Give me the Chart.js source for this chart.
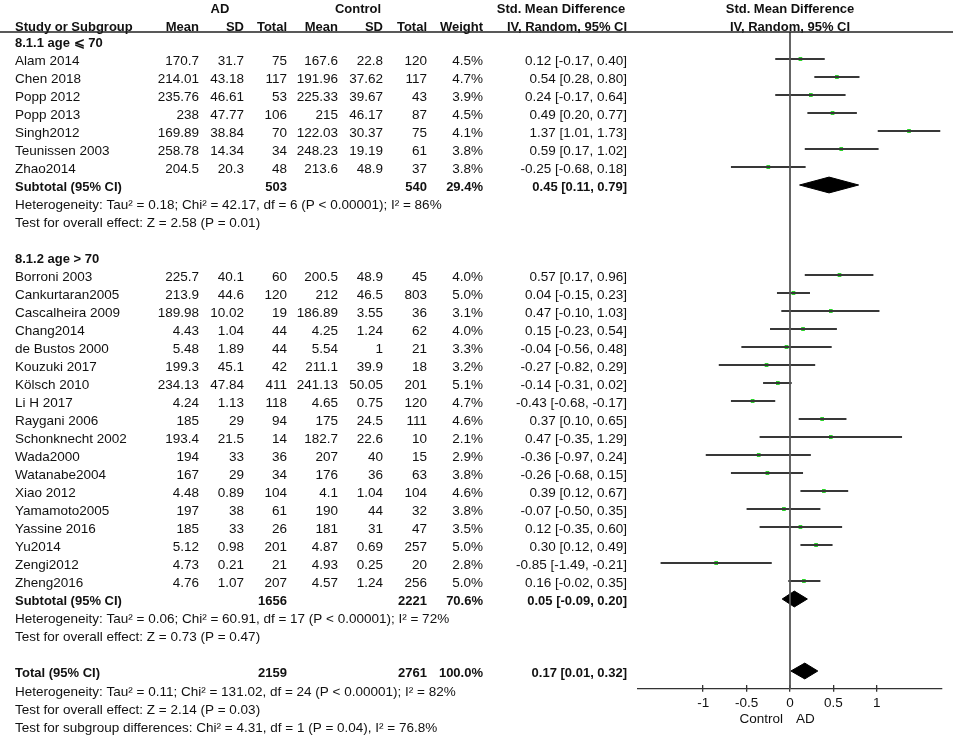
<!DOCTYPE html>
<html>
<head>
<meta charset="utf-8">
<script src="https://cdn.jsdelivr.net/npm/chart.js@4/dist/chart.umd.min.js"></script>
<style>
  html, body { margin: 0; padding: 0; background: #fff; }
  #wrap { width: 957px; height: 737px; position: relative; }
</style>
</head>
<body>
<div id="wrap"><canvas id="forest"></canvas></div>
<script>
// studies, in the order they appear in the table
const studies = ['Alam 2014', 'Chen 2018', 'Popp 2012', 'Popp 2013', 'Singh2012', 'Teunissen 2003', 'Zhao2014',
  'Borroni 2003', 'Cankurtaran2005', 'Cascalheira 2009', 'Chang2014', 'de Bustos 2000', 'Kouzuki 2017', 'Kölsch 2010',
  'Li H 2017', 'Raygani 2006', 'Schonknecht 2002', 'Wada2000', 'Watanabe2004', 'Xiao 2012', 'Yamamoto2005',
  'Yassine 2016', 'Yu2014', 'Zengi2012', 'Zheng2016'];
const adMean = [170.7, 214.01, 235.76, 238, 169.89, 258.78, 204.5,
  225.7, 213.9, 189.98, 4.43, 5.48, 199.3, 234.13, 4.24, 185, 193.4, 194, 167, 4.48, 197, 185, 5.12, 4.73, 4.76];
const adSd = [31.7, 43.18, 46.61, 47.77, 38.84, 14.34, 20.3,
  40.1, 44.6, 10.02, 1.04, 1.89, 45.1, 47.84, 1.13, 29, 21.5, 33, 29, 0.89, 38, 33, 0.98, 0.21, 1.07];
const adN = [75, 117, 53, 106, 70, 34, 48,
  60, 120, 19, 44, 44, 42, 411, 118, 94, 14, 36, 34, 104, 61, 26, 201, 21, 207];
const ctMean = [167.6, 191.96, 225.33, 215, 122.03, 248.23, 213.6,
  200.5, 212, 186.89, 4.25, 5.54, 211.1, 241.13, 4.65, 175, 182.7, 207, 176, 4.1, 190, 181, 4.87, 4.93, 4.57];
const ctSd = [22.8, 37.62, 39.67, 46.17, 30.37, 19.19, 48.9,
  48.9, 46.5, 3.55, 1.24, 1, 39.9, 50.05, 0.75, 24.5, 22.6, 40, 36, 1.04, 44, 31, 0.69, 0.25, 1.24];
const ctN = [120, 117, 43, 87, 75, 61, 37,
  45, 803, 36, 62, 21, 18, 201, 120, 111, 10, 15, 63, 104, 32, 47, 257, 20, 256];
const weight = [4.5, 4.7, 3.9, 4.5, 4.1, 3.8, 3.8,
  4.0, 5.0, 3.1, 4.0, 3.3, 3.2, 5.1, 4.7, 4.6, 2.1, 2.9, 3.8, 4.6, 3.8, 3.5, 5.0, 2.8, 5.0];
const smd = [0.12, 0.54, 0.24, 0.49, 1.37, 0.59, -0.25,
  0.57, 0.04, 0.47, 0.15, -0.04, -0.27, -0.14, -0.43, 0.37, 0.47, -0.36, -0.26, 0.39, -0.07, 0.12, 0.30, -0.85, 0.16];
const ciLo = [-0.17, 0.28, -0.17, 0.20, 1.01, 0.17, -0.68,
  0.17, -0.15, -0.10, -0.23, -0.56, -0.82, -0.31, -0.68, 0.10, -0.35, -0.97, -0.68, 0.12, -0.50, -0.35, 0.12, -1.49, -0.02];
const ciHi = [0.40, 0.80, 0.64, 0.77, 1.73, 1.02, 0.18,
  0.96, 0.23, 1.03, 0.54, 0.48, 0.29, 0.02, -0.17, 0.65, 1.29, 0.24, 0.15, 0.67, 0.35, 0.60, 0.49, -0.21, 0.35];

// subgroups
const groupLabels = ['8.1.1 age \u2A7D 70', '8.1.2 age > 70'];
const groupSizes = [7, 18];
const subAdN = [503, 1656];
const subCtN = [540, 2221];
const subWeight = [29.4, 70.6];
const subSmd = [0.45, 0.05];
const subLo = [0.11, -0.09];
const subHi = [0.79, 0.20];
const subHet = ['Heterogeneity: Tau\u00B2 = 0.18; Chi\u00B2 = 42.17, df = 6 (P < 0.00001); I\u00B2 = 86%',
  'Heterogeneity: Tau\u00B2 = 0.06; Chi\u00B2 = 60.91, df = 17 (P < 0.00001); I\u00B2 = 72%'];
const subTest = ['Test for overall effect: Z = 2.58 (P = 0.01)', 'Test for overall effect: Z = 0.73 (P = 0.47)'];

// overall
const totalAdN = 2159, totalCtN = 2761, totalWeight = 100.0;
const totalSmd = 0.17, totalLo = 0.01, totalHi = 0.32;
const totalNotes = ['Heterogeneity: Tau\u00B2 = 0.11; Chi\u00B2 = 131.02, df = 24 (P < 0.00001); I\u00B2 = 82%',
  'Test for overall effect: Z = 2.14 (P = 0.03)',
  'Test for subgroup differences: Chi\u00B2 = 4.31, df = 1 (P = 0.04), I\u00B2 = 76.8%'];

const xTicks = [-1, -0.5, 0, 0.5, 1];

// row layout (one row = one table line)
const studyRow = [], groupRow = [], subRow = [], hetRow = [], testRow = [];
let r = 0, k = 0;
groupSizes.forEach((n, g) => {
  groupRow.push(r++);
  for (let i = 0; i < n; i++) studyRow[k++] = r++;
  subRow.push(r++);
  hetRow.push(r++);
  testRow.push(r++);
  r++;
});
const totalRow = r;
const axisRow = totalRow + 1;

const FONT = '"Liberation Sans", Arial, sans-serif';
const FS = 13.5;
const FSB = 13;
const TXT = '#111';
const fmt2 = v => v.toFixed(2);
const ciText = (m, lo, hi) => fmt2(m) + ' [' + fmt2(lo) + ', ' + fmt2(hi) + ']';

const DH = 0.44;
function diamond(m, lo, hi, row) {
  return [{ x: lo, y: row }, { x: m, y: row - DH }, { x: hi, y: row }, { x: m, y: row + DH }, { x: lo, y: row }];
}
const diamonds = subSmd.map((m, g) => diamond(m, subLo[g], subHi[g], subRow[g]));
diamonds.push(diamond(totalSmd, totalLo, totalHi, totalRow));

const lineDs = (data, color, width) => ({
  type: 'scatter', data, showLine: true, borderColor: color, borderWidth: width,
  pointRadius: 0, tension: 0, clip: false
});

const datasets = [lineDs([{ x: 0, y: -0.5 }, { x: 0, y: axisRow }], '#555', 1.8)];
// CI whiskers, one per study
studies.forEach((s, i) => {
  datasets.push(lineDs([{ x: ciLo[i], y: studyRow[i] }, { x: ciHi[i], y: studyRow[i] }], '#383838', 2));
});
datasets.push({
  type: 'scatter', data: studies.map((s, i) => ({ x: smd[i], y: studyRow[i] })),
  pointStyle: 'rect', pointRadius: 2.6, backgroundColor: '#00cc00', borderWidth: 0, clip: false
});
diamonds.forEach(d => {
  const ds = lineDs(d, '#000', 1);
  ds.fill = 'shape';
  ds.backgroundColor = '#000';
  datasets.push(ds);
});

const tablePlugin = {
  id: 'forestTable',
  afterDraw(chart) {
    const ctx = chart.ctx;
    const ys = chart.scales.y;
    const xs = chart.scales.x;
    const py = row => ys.getPixelForValue(row) + (row > totalRow ? 3.5 : 2.5);
    ctx.save();
    ctx.fillStyle = TXT;
    ctx.textBaseline = 'middle';
    const txt = (s, x, row, align, bold) => {
      ctx.font = bold ? 'bold ' + FSB + 'px ' + FONT : FS + 'px ' + FONT;
      ctx.textAlign = align || 'left';
      ctx.fillText(s, x, py(row));
    };
    const C = { name: 15, adM: 199, adS: 244, adN: 287, ctM: 338, ctS: 383, ctN: 427, w: 483, ci: 627 };

    // headers
    const h1 = -1.9, h2 = -0.9;
    txt('AD', 220, h1, 'center', true);
    txt('Control', 358, h1, 'center', true);
    txt('Std. Mean Difference', 561, h1, 'center', true);
    txt('Std. Mean Difference', xs.getPixelForValue(0), h1, 'center', true);
    txt('Study or Subgroup', C.name, h2, 'left', true);
    txt('Mean', C.adM, h2, 'right', true);
    txt('SD', C.adS, h2, 'right', true);
    txt('Total', C.adN, h2, 'right', true);
    txt('Mean', C.ctM, h2, 'right', true);
    txt('SD', C.ctS, h2, 'right', true);
    txt('Total', C.ctN, h2, 'right', true);
    txt('Weight', C.w, h2, 'right', true);
    txt('IV, Random, 95% CI', 567, h2, 'center', true);
    txt('IV, Random, 95% CI', xs.getPixelForValue(0), h2, 'center', true);
    ctx.strokeStyle = '#222';
    ctx.lineWidth = 1.3;
    ctx.beginPath();
    const yl = ys.getPixelForValue(-0.5);
    ctx.moveTo(0, yl); ctx.lineTo(953, yl);
    ctx.stroke();

    // studies
    studies.forEach((s, i) => {
      const row = studyRow[i];
      txt(s, C.name, row);
      txt(String(adMean[i]), C.adM, row, 'right');
      txt(String(adSd[i]), C.adS, row, 'right');
      txt(String(adN[i]), C.adN, row, 'right');
      txt(String(ctMean[i]), C.ctM, row, 'right');
      txt(String(ctSd[i]), C.ctS, row, 'right');
      txt(String(ctN[i]), C.ctN, row, 'right');
      txt(weight[i].toFixed(1) + '%', C.w, row, 'right');
      txt(ciText(smd[i], ciLo[i], ciHi[i]), C.ci, row, 'right');
    });

    // subgroups
    groupLabels.forEach((g, j) => {
      txt(g, C.name, groupRow[j], 'left', true);
      const row = subRow[j];
      txt('Subtotal (95% CI)', C.name, row, 'left', true);
      txt(String(subAdN[j]), C.adN, row, 'right', true);
      txt(String(subCtN[j]), C.ctN, row, 'right', true);
      txt(subWeight[j].toFixed(1) + '%', C.w, row, 'right', true);
      txt(ciText(subSmd[j], subLo[j], subHi[j]), C.ci, row, 'right', true);
      txt(subHet[j], C.name, hetRow[j]);
      txt(subTest[j], C.name, testRow[j]);
    });

    // total
    txt('Total (95% CI)', C.name, totalRow, 'left', true);
    txt(String(totalAdN), C.adN, totalRow, 'right', true);
    txt(String(totalCtN), C.ctN, totalRow, 'right', true);
    txt(totalWeight.toFixed(1) + '%', C.w, totalRow, 'right', true);
    txt(ciText(totalSmd, totalLo, totalHi), C.ci, totalRow, 'right', true);
    totalNotes.forEach((t, j) => txt(t, C.name, totalRow + 1 + j));

    // favours labels under the axis
    const x0 = xs.getPixelForValue(0);
    ctx.font = FS + 'px ' + FONT;
    ctx.textAlign = 'right';
    ctx.fillText('Control', x0 - 7, ys.getPixelForValue(axisRow) + 30);
    ctx.textAlign = 'left';
    ctx.fillText('AD', x0 + 6, ys.getPixelForValue(axisRow) + 30);
    ctx.restore();
  }
};

const tickFont = { family: FONT, size: FS };
new Chart(document.getElementById('forest'), {
  type: 'scatter',
  data: { datasets },
  options: {
    responsive: true,
    maintainAspectRatio: false,
    animation: false,
    layout: { autoPadding: false, padding: { left: 638, right: 15, top: 0, bottom: 0 } },
    plugins: { legend: { display: false }, tooltip: { enabled: false } },
    scales: {
      x: {
        type: 'linear',
        min: -1.75,
        max: 1.75,
        position: { y: axisRow },
        afterBuildTicks: s => { s.ticks = xTicks.map(v => ({ value: v })); },
        grid: { drawOnChartArea: false, drawTicks: true, tickLength: 2.5, color: '#333', lineWidth: 1.3 },
        border: { display: true, color: '#333', width: 1.3 },
        ticks: { color: TXT, padding: 3.5, font: tickFont, callback: v => String(v), maxRotation: 0 }
      },
      // upper half of the tick marks, crossing the axis line
      xUp: {
        type: 'linear',
        axis: 'x',
        min: -1.75,
        max: 1.75,
        position: { y: axisRow - 4.5 / 18 },
        afterBuildTicks: s => { s.ticks = xTicks.map(v => ({ value: v })); },
        grid: { drawOnChartArea: false, drawTicks: true, tickLength: 4.5, color: '#333', lineWidth: 1.3 },
        border: { display: false },
        ticks: { display: false }
      },
      y: {
        type: 'linear',
        display: false,
        reverse: true,
        min: -41 / 18,
        max: 696 / 18
      }
    }
  },
  plugins: [tablePlugin]
});
</script>
</body>
</html>
